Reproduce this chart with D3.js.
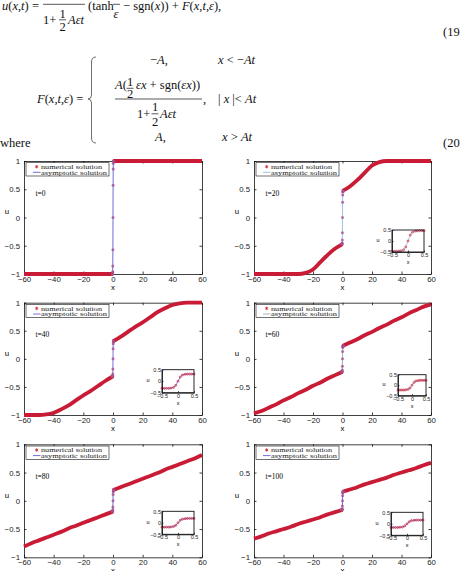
<!DOCTYPE html>
<html>
<head>
<meta charset="utf-8">
<script src="https://cdn.jsdelivr.net/npm/d3@7"></script>
<style>
  body { margin: 0; background: #fff; }
  svg { display: block; }
</style>
</head>
<body>
<script>

// ---- values ----
var times = [0, 20, 40, 60, 80, 100];
var xTicks = [-60, -40, -20, 0, 20, 40, 60];
var uTicks = [-1, -0.5, 0, 0.5, 1];
var insetTicks = [-0.5, 0, 0.5];

// x of the read points on each side of the jump
var xLeft  = [-60, -55, -50, -45, -40, -35, -30, -25, -20, -15, -10, -5, 0];
var xRight = [0, 5, 10, 15, 20, 25, 30, 35, 40, 45, 50, 55, 60];

var left_t0   = [-1, -1, -1, -1, -1, -1, -1, -1, -1, -1, -1, -1, -1];
var right_t0  = [1, 1, 1, 1, 1, 1, 1, 1, 1, 1, 1, 1, 1];
var left_t20  = [-1, -1, -1, -1, -1, -1, -1, -0.98, -0.92, -0.79, -0.66, -0.55, -0.47];
var right_t20 = [0.47, 0.55, 0.66, 0.79, 0.92, 0.98, 1, 1, 1, 1, 1, 1, 1];
var left_t40  = [-1, -1, -1, -0.99, -0.96, -0.9, -0.83, -0.74, -0.65, -0.57, -0.48, -0.39, -0.31];
var right_t40 = [0.31, 0.39, 0.48, 0.57, 0.65, 0.74, 0.83, 0.9, 0.96, 0.99, 1, 1, 1];
var left_t60  = [-0.97, -0.93, -0.87, -0.81, -0.74, -0.68, -0.61, -0.55, -0.48, -0.42, -0.35, -0.29, -0.23];
var right_t60 = [0.23, 0.29, 0.35, 0.42, 0.48, 0.55, 0.61, 0.68, 0.74, 0.81, 0.87, 0.93, 0.97];
var left_t80  = [-0.81, -0.75, -0.7, -0.65, -0.6, -0.55, -0.49, -0.44, -0.39, -0.34, -0.29, -0.24, -0.19];
var right_t80 = [0.19, 0.24, 0.29, 0.34, 0.39, 0.44, 0.49, 0.55, 0.6, 0.65, 0.7, 0.75, 0.81];
var left_t100  = [-0.67, -0.63, -0.58, -0.54, -0.5, -0.46, -0.41, -0.37, -0.33, -0.29, -0.24, -0.2, -0.16];
var right_t100 = [0.16, 0.2, 0.24, 0.29, 0.33, 0.37, 0.41, 0.46, 0.5, 0.54, 0.58, 0.63, 0.67];

// grid points around x=0 (the ones seen in the insets and on the jump)
var xNear = [-0.5, -0.43, -0.36, -0.29, -0.22, -0.14, -0.07, 0, 0.07, 0.14, 0.22, 0.29, 0.36, 0.43, 0.5];
var near_t0   = [-1, -1, -1, -1, -0.96, -0.86, -0.57, 0, 0.57, 0.86, 0.96, 1, 1, 1, 1];
var near_t20  = [-0.47, -0.47, -0.47, -0.46, -0.45, -0.4, -0.27, 0, 0.27, 0.4, 0.45, 0.46, 0.47, 0.47, 0.47];
var near_t40  = [-0.31, -0.31, -0.31, -0.31, -0.3, -0.27, -0.18, 0, 0.18, 0.27, 0.3, 0.31, 0.31, 0.31, 0.31];
var near_t60  = [-0.23, -0.23, -0.23, -0.23, -0.22, -0.2, -0.13, 0, 0.13, 0.2, 0.22, 0.23, 0.23, 0.23, 0.23];
var near_t80  = [-0.19, -0.19, -0.19, -0.19, -0.18, -0.16, -0.11, 0, 0.11, 0.16, 0.18, 0.19, 0.19, 0.19, 0.19];
var near_t100 = [-0.16, -0.16, -0.16, -0.16, -0.15, -0.14, -0.09, 0, 0.09, 0.14, 0.15, 0.16, 0.16, 0.16, 0.16];

var legendNames = ["numerical solution", "asymptotic solution"];

// ---- layout ----
var W = 460, H = 571;
var colX = [[24, 202], [254, 431]];
var rowY = [[161, 274], [302.7, 415], [444.3, 557.3]];
// inset box: dx from panel left, dy from panel top, width, height
var insetBox = [null, [138, 69, 32, 22], [138, 67, 32, 23], [144, 72, 28, 21], [138, 67, 32, 23], [137, 68, 32, 23]];
var lineColor = ["#5d5ad8", "#8cbce2", "#6a5fd8", "#8eaabb", "#5d5ad8", "#5d5ad8"];
var red = "#c91b35";
var sans = "'Liberation Sans', Arial, sans-serif";
var serif = "'Liberation Serif', 'Times New Roman', serif";
var fmt = d3.format("");

var lefts = [left_t0, left_t20, left_t40, left_t60, left_t80, left_t100];
var rights = [right_t0, right_t20, right_t40, right_t60, right_t80, right_t100];
var nears = [near_t0, near_t20, near_t40, near_t60, near_t80, near_t100];

var svg = d3.select("body").append("svg").attr("width", W).attr("height", H);

// ---- equations (19) and (20) ----
var eq = svg.append("g").attr("font-family", serif).attr("font-size", 12.5).attr("fill", "#111");

function txt(x, y, html) {
  eq.append("text").attr("x", x).attr("y", y).html(html);
}
function bar(xa, xb, yy) {
  eq.append("line").attr("x1", xa).attr("x2", xb).attr("y1", yy).attr("y2", yy)
    .attr("stroke", "#111").attr("stroke-width", 0.7);
}
var I = function(s) { return "<tspan font-style='italic'>" + s + "</tspan>"; };

txt(2, 9.5, I("u") + "(" + I("x") + "," + I("t") + ") =");
bar(43, 85, 4.3);
txt(43, 23.5, "1+");
txt(59.5, 17.5, "1");
bar(59, 66, 19.8);
txt(59.5, 31, "2");
txt(68, 23.5, I("Aεt"));
txt(88, 9.5, "(tanh");
bar(113, 120, 4.3);
txt(113.5, 18, I("ε"));
txt(123, 9.5, "− sgn(" + I("x") + ")) + " + I("F") + "(" + I("x") + "," + I("t") + "," + I("ε") + "),");
txt(443, 36, "(19)");

txt(37, 103, I("F") + "(" + I("x") + "," + I("t") + "," + I("ε") + ") =");
eq.append("path")
  .attr("d", "M96,57 Q91.5,57 91.5,62 L91.5,95 Q91.5,99 88,99 Q91.5,99 91.5,103 L91.5,138 Q91.5,143 96,143")
  .attr("fill", "none").attr("stroke", "#333").attr("stroke-width", 0.7);
txt(150, 64, "−" + I("A") + ",");
txt(218, 64, I("x") + " &lt; −" + I("At"));
txt(115, 89, I("A") + "(");
txt(127, 86, "1");
bar(126.5, 133.5, 88.3);
txt(127, 97.6, "2");
txt(136, 89, I("εx") + " + sgn(" + I("εx") + "))");
bar(115, 202, 99);
txt(203, 103, ",");
txt(137, 117.5, "1+");
txt(152, 111.3, "1");
bar(151.5, 158.5, 113.8);
txt(152, 126.3, "2");
txt(160, 117.5, I("Aεt"));
txt(218, 103, "| " + I("x") + " |&lt; " + I("At"));
txt(155, 141, I("A") + ",");
txt(222, 141, I("x") + " &gt; " + I("At"));
txt(0, 147, "where");
txt(443, 147, "(20)");

// ---- panels ----
function styleAxis(sel, size) {
  sel.attr("font-family", sans).attr("font-size", size);
  sel.selectAll("path").attr("stroke", "#111").attr("stroke-width", 0.8);
  sel.selectAll("line").attr("stroke", "#111").attr("stroke-width", 0.8);
  sel.selectAll("text").attr("fill", "#222");
}

function drawInset(g, box, us, color) {
  var bx = box[0], by = box[1], bw = box[2], bh = box[3];
  var ix = d3.scaleLinear().domain([-0.5, 0.5]).range([bx, bx + bw]);
  var iy = d3.scaleLinear().domain([-0.5, 0.5]).range([by + bh, by]);
  var pts = xNear.map(function(v, k) { return [v, us[k]]; });

  g.append("rect").attr("x", bx).attr("y", by).attr("width", bw).attr("height", bh)
    .attr("fill", "#fff");
  g.append("path").datum(pts)
    .attr("d", d3.line().x(function(d) { return ix(d[0]); }).y(function(d) { return iy(d[1]); }))
    .attr("fill", "none").attr("stroke", color).attr("stroke-width", 0.8);
  g.selectAll(null).data(pts).enter().append("circle")
    .attr("cx", function(d) { return ix(d[0]); })
    .attr("cy", function(d) { return iy(d[1]); })
    .attr("r", 1).attr("fill", "none").attr("stroke", red).attr("stroke-width", 0.7);

  g.append("g").attr("transform", "translate(0," + (by + bh) + ")")
    .call(d3.axisBottom(ix).tickValues(insetTicks).tickSizeInner(-1.5).tickSizeOuter(0).tickPadding(1).tickFormat(fmt))
    .call(styleAxis, 5.5);
  g.append("g").attr("transform", "translate(" + bx + ",0)")
    .call(d3.axisLeft(iy).tickValues(insetTicks).tickSizeInner(-1.5).tickSizeOuter(0).tickPadding(1).tickFormat(fmt))
    .call(styleAxis, 5.5);
  g.append("rect").attr("x", bx).attr("y", by).attr("width", bw).attr("height", bh)
    .attr("fill", "none").attr("stroke", "#111").attr("stroke-width", 0.9);
  g.append("text").attr("x", bx + bw / 2).attr("y", by + bh + 12).attr("text-anchor", "middle")
    .attr("font-family", sans).attr("font-size", 5.5).text("x");
  g.append("text").attr("x", bx - 14).attr("y", by + bh / 2 + 1).attr("text-anchor", "middle")
    .attr("font-family", sans).attr("font-size", 5.5).text("u");
}

function drawPanel(t, i) {
  var x0 = colX[i % 2][0], x1 = colX[i % 2][1];
  var y0 = rowY[Math.floor(i / 2)][0], y1 = rowY[Math.floor(i / 2)][1];
  var x = d3.scaleLinear().domain([-60, 60]).range([x0, x1]);
  var y = d3.scaleLinear().domain([-1, 1]).range([y1, y0]);
  var g = svg.append("g");

  // matlab style box, ticks pointing in
  g.append("g").attr("transform", "translate(0," + y1 + ")")
    .call(d3.axisBottom(x).tickValues(xTicks).tickSizeInner(-2.5).tickSizeOuter(0).tickPadding(2).tickFormat(fmt))
    .call(styleAxis, 7.8);
  g.append("g").attr("transform", "translate(0," + y0 + ")")
    .call(d3.axisTop(x).tickValues(xTicks).tickSizeInner(-2.5).tickSizeOuter(0).tickFormat(""))
    .call(styleAxis, 7.8);
  g.append("g").attr("transform", "translate(" + x0 + ",0)")
    .call(d3.axisLeft(y).tickValues(uTicks).tickSizeInner(-2.5).tickSizeOuter(0).tickPadding(4).tickFormat(fmt))
    .call(styleAxis, 7.8);
  g.append("g").attr("transform", "translate(" + x1 + ",0)")
    .call(d3.axisRight(y).tickValues(uTicks).tickSizeInner(-2.5).tickSizeOuter(0).tickFormat(""))
    .call(styleAxis, 7.8);

  g.append("text").attr("x", x(0)).attr("y", y1 + 15.5).attr("text-anchor", "middle")
    .attr("font-family", sans).attr("font-size", 7.8).text("x");
  g.append("text").attr("x", x0 - 17).attr("y", y(0.1) + 2.5).attr("text-anchor", "middle")
    .attr("font-family", sans).attr("font-size", 7.8).text("u");

  var L = xLeft.map(function(v, k) { return [v, lefts[i][k]]; });
  var R = xRight.map(function(v, k) { return [v, rights[i][k]]; });
  var N = xNear.map(function(v, k) { return [v, nears[i][k]]; });

  var line = d3.line().x(function(d) { return x(d[0]); }).y(function(d) { return y(d[1]); });
  var smooth = d3.line().curve(d3.curveMonotoneX).x(function(d) { return x(d[0]); }).y(function(d) { return y(d[1]); });

  // asymptotic solution
  g.append("path").datum(L.slice(0, -1).concat(N, R.slice(1)))
    .attr("d", line).attr("fill", "none").attr("stroke", lineColor[i]).attr("stroke-width", 0.9);

  // numerical solution, markers so dense they read as a thick band
  [L, R].forEach(function(branch) {
    g.append("path").datum(branch).attr("d", smooth)
      .attr("fill", "none").attr("stroke", red).attr("stroke-width", 3.8);
  });
  g.selectAll(null).data(N).enter().append("circle")
    .attr("cx", function(d) { return x(d[0]); })
    .attr("cy", function(d) { return y(d[1]); })
    .attr("r", 1.5).attr("fill", "#a8508c").attr("fill-opacity", 0.8);

  // legend
  var lg = g.append("g").attr("font-family", serif).attr("font-size", 6.6);
  lg.append("rect").attr("x", x0 + 2).attr("y", y0 + 1.7).attr("width", 83).attr("height", 13.3)
    .attr("fill", "#fff").attr("stroke", "#111").attr("stroke-width", 0.6);
  lg.append("path").attr("d", d3.symbol().type(d3.symbolAsterisk).size(8)())
    .attr("transform", "translate(" + (x0 + 12.7) + "," + (y0 + 5.7) + ")")
    .attr("stroke", red).attr("stroke-width", 0.8).attr("fill", "none");
  lg.append("line").attr("x1", x0 + 9).attr("x2", x0 + 16.5)
    .attr("y1", y0 + 11.3).attr("y2", y0 + 11.3).attr("stroke", lineColor[i]).attr("stroke-width", 0.9);
  lg.selectAll(null).data(legendNames).enter().append("text")
    .attr("x", x0 + 17).attr("y", function(d, k) { return y0 + 7.9 + k * 5.8; })
    .attr("textLength", function(d, k) { return k ? 66 : 61; })
    .attr("lengthAdjust", "spacingAndGlyphs")
    .attr("fill", "#222").text(function(d) { return d; });

  g.append("text").attr("x", x0 + 11.5).attr("y", y0 + 34.5)
    .attr("font-family", serif).attr("font-size", 7.5).text("t=" + t);

  if (insetBox[i]) {
    var b = insetBox[i];
    drawInset(g, [x0 + b[0], y0 + b[1], b[2], b[3]], nears[i], lineColor[i]);
  }
}

times.forEach(drawPanel);

</script>
</body>
</html>
